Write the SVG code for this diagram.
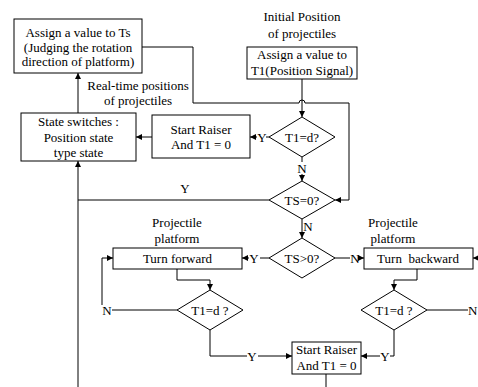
<svg xmlns="http://www.w3.org/2000/svg" width="478" height="387" viewBox="0 0 478 387" font-family="'Liberation Serif', 'Times New Roman', serif">
<style>
text{font-family:'Liberation Serif','Times New Roman',serif;font-size:13px;fill:#000;text-anchor:middle}
.box{fill:#fff;stroke:#000;stroke-width:1}
.c{fill:none;stroke:#000;stroke-width:1}
.a{marker-end:url(#ar)}
</style>
<defs>
<marker id="ar" markerWidth="6" markerHeight="6" refX="6" refY="3" orient="auto" markerUnits="userSpaceOnUse">
<path d="M0,0 L6,3 L0,6 z" fill="#000"/>
</marker>
</defs>
<rect width="478" height="387" fill="#fff"/>
<g id="connectors">
<path class="c a" d="M142,47 H193 V103 H299 A3,3 0 0 1 305,103 H349 V200 H335"/>
<path class="c a" d="M302,79 V117"/>
<path class="c" d="M269,137 H266"/>
<path class="c a" d="M257,137 H250"/>
<path class="c a" d="M152,137 H136"/>
<path class="c a" d="M78,113 V73"/>
<path class="c" d="M302,157 V162"/>
<path class="c a" d="M302,174 V181"/>
<path class="c" d="M269,200 H78"/>
<path class="c a" d="M78,387 V161"/>
<path class="c a" d="M302,219 V238"/>
<path class="c" d="M269,258 H260"/>
<path class="c a" d="M249,258 H242"/>
<path class="c" d="M335,258 H350"/>
<path class="c a" d="M360,258 H364"/>
<path class="c a" d="M177,269 V280 H210 V290"/>
<path class="c" d="M177,310 H112"/>
<path class="c a" d="M102,305 V258 H113"/>
<path class="c" d="M210,330 V356 H247"/>
<path class="c a" d="M258,356 H292"/>
<path class="c a" d="M417,269 V280 H394 V290"/>
<path class="c" d="M427,310 H468"/>
<path class="c" d="M394,330 V356 H390"/>
<path class="c a" d="M380,356 H361"/>
<path class="c" d="M326,374 V387"/>
<path class="c a" d="M479,258 H473"/>
</g>
<g id="labels">
<text x="302" y="21">Initial Position</text>
<text x="302" y="37.5">of projectiles</text>
<text x="138" y="89.5">Real-time positions</text>
<text x="138" y="104.5">of projectiles</text>
<text x="177" y="226.5">Projectile</text>
<text x="177" y="242.5">platform</text>
<text x="393" y="226.5">Projectile</text>
<text x="393" y="242.5">platform</text>
<text x="262" y="141.5">Y</text>
<text x="302" y="172.5">N</text>
<text x="185" y="193">Y</text>
<text x="308" y="230.5">N</text>
<text x="254" y="262.5">Y</text>
<text x="355" y="262.5">N</text>
<text x="107" y="314.5">N</text>
<text x="252" y="360.5">Y</text>
<text x="385" y="360.5">Y</text>
<text x="468" y="314.5" style="text-anchor:start">N</text>
</g>
<g id="assign-ts">
<rect class="box" x="14" y="19" width="128" height="54"/>
<text x="78" y="37">Assign a value to Ts</text>
<text x="78" y="51.5">(Judging the rotation</text>
<text x="78" y="66">direction of platform)</text>
</g>
<g id="assign-t1">
<rect class="box" x="247" y="47" width="110" height="32"/>
<text x="302" y="58.5">Assign a value to</text>
<text x="302" y="75">T1(Position Signal)</text>
</g>
<g id="state-switches">
<rect class="box" x="21" y="113" width="115" height="48"/>
<text x="78.5" y="125.5">State switches :</text>
<text x="78.5" y="141.5">Position state</text>
<text x="78.5" y="156.5">type state</text>
</g>
<g id="start-raiser-1">
<rect class="box" x="152" y="115" width="98" height="43"/>
<text x="201" y="133.5">Start Raiser</text>
<text x="201" y="148.5">And T1 = 0</text>
</g>
<g id="t1-d-top">
<polygon class="box" points="269,137 302,117 335,137 302,157"/>
<text x="302" y="141.5">T1=d?</text>
</g>
<g id="ts-0">
<polygon class="box" points="269,200 302,181 335,200 302,219"/>
<text x="302" y="204.5">TS=0?</text>
</g>
<g id="ts-gt-0">
<polygon class="box" points="269,258 302,238 335,258 302,278"/>
<text x="302" y="262.5">TS&gt;0?</text>
</g>
<g id="turn-forward">
<rect class="box" x="113" y="248" width="129" height="21"/>
<text x="177.5" y="263">Turn forward</text>
</g>
<g id="turn-backward">
<rect class="box" x="364" y="248" width="109" height="21"/>
<text x="418" y="263" style="white-space:pre">Turn  backward</text>
</g>
<g id="t1-d-forward">
<polygon class="box" points="177,310 210,290 243,310 210,330"/>
<text x="210" y="314.5">T1=d ?</text>
</g>
<g id="t1-d-backward">
<polygon class="box" points="361,310 394,290 427,310 394,330"/>
<text x="394" y="314.5">T1=d ?</text>
</g>
<g id="start-raiser-2">
<rect class="box" x="292" y="342" width="69" height="32"/>
<text x="326.5" y="353.5">Start Raiser</text>
<text x="326.5" y="369.5">And T1 = 0</text>
</g>
</svg>
